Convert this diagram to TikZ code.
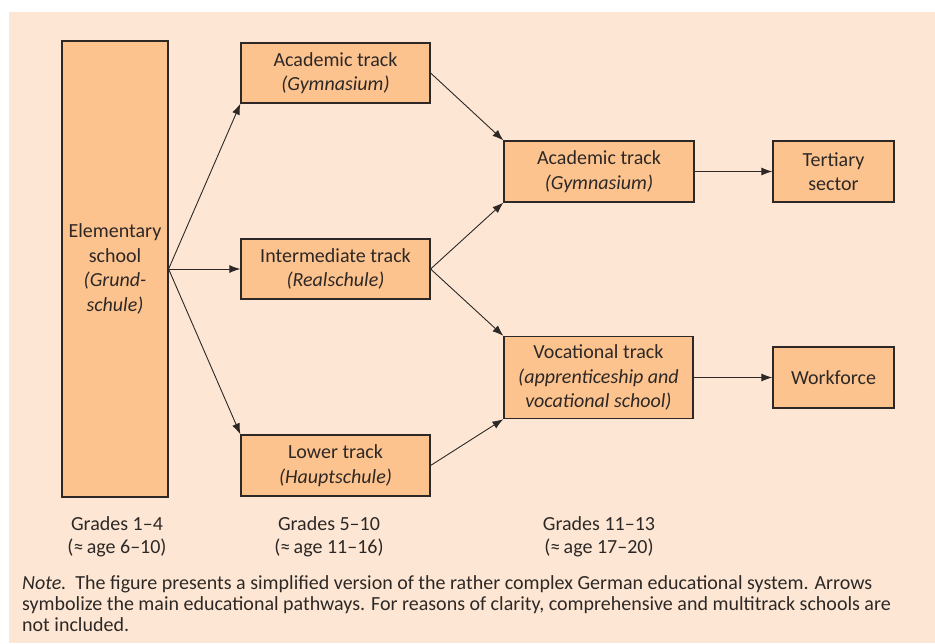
\documentclass[tikz,border=0pt]{standalone}
\usepackage{fontspec}
\setmainfont{Carlito}
\usetikzlibrary{arrows.meta}

\definecolor{panel}{RGB}{253,231,212}
\definecolor{boxfill}{RGB}{253,195,142}
\definecolor{edge}{RGB}{45,40,38}

\tikzset{
  stage/.style={draw=edge, fill=boxfill, line width=1.2pt, align=center,
    inner sep=0pt, font=\fontsize{20}{24.5}\selectfont, text=edge},
  path/.style={draw=edge, line width=0.9pt, -{Latex[length=11pt,width=8pt]}},
  grade/.style={align=center, inner sep=0pt, font=\fontsize{20}{23}\selectfont, text=edge},
}

\begin{document}
\begin{tikzpicture}[x=1pt, y=-1pt]
  \useasboundingbox (0,0) rectangle (935,643);
  \fill[panel] (9,12) rectangle (935,643);

  % schools
  \node[stage, minimum width=106, minimum height=456] (elem) at (115,269)
    {Elementary\\school\\\textit{(Grund-}\\\textit{schule)}};
  \node[stage, minimum width=189, minimum height=60] (acad1) at (335.5,73)
    {Academic track\\\textit{(Gymnasium)}};
  \node[stage, minimum width=189, minimum height=60] (inter) at (335.5,269)
    {Intermediate track\\\textit{(Realschule)}};
  \node[stage, minimum width=189, minimum height=61] (lower) at (335.5,465.5)
    {Lower track\\\textit{(Hauptschule)}};
  \node[stage, minimum width=190, minimum height=61] (acad2) at (599,171.5)
    {Academic track\\\textit{(Gymnasium)}};
  \node[stage, minimum width=189, minimum height=82] (voc) at (598.5,377.5)
    {Vocational track\\\textit{(apprenticeship and}\\\textit{vocational school)}};
  \node[stage, minimum width=121, minimum height=61] (tert) at (833.5,171.5)
    {Tertiary\\sector};
  \node[stage, minimum width=121, minimum height=61] (work) at (833.5,377.5)
    {Workforce};

  % pathways
  \draw[path] (elem.east) -- (acad1.south west);
  \draw[path] (elem.east) -- (inter.west);
  \draw[path] (elem.east) -- (lower.north west);
  \draw[path] (acad1.east) -- (acad2.north west);
  \draw[path] (inter.east) -- (acad2.south west);
  \draw[path] (inter.east) -- (voc.north west);
  \draw[path] (lower.east) -- (voc.south west);
  \draw[path] (acad2.east) -- (tert.west);
  \draw[path] (voc.east) -- (work.west);

  % grade levels
  \node[grade] (g1) at (117,537) {Grades 1–4\\(≈\,age 6–10)};
  \node[grade] (g2) at (329,537) {Grades 5–10\\(≈\,age 11–16)};
  \node[grade] (g3) at (599,537) {Grades 11–13\\(≈\,age 17–20)};

  % note
  \node[anchor=north west, align=left, inner sep=0pt, text=edge,
        font=\fontsize{20}{21}\selectfont] (note) at (22,575)
    {\textit{Note.}\ \ The figure presents a simplified version of the rather complex German educational system. Arrows\\
     symbolize the main educational pathways. For reasons of clarity, comprehensive and multitrack schools are\\
     not included.};
\end{tikzpicture}
\end{document}
